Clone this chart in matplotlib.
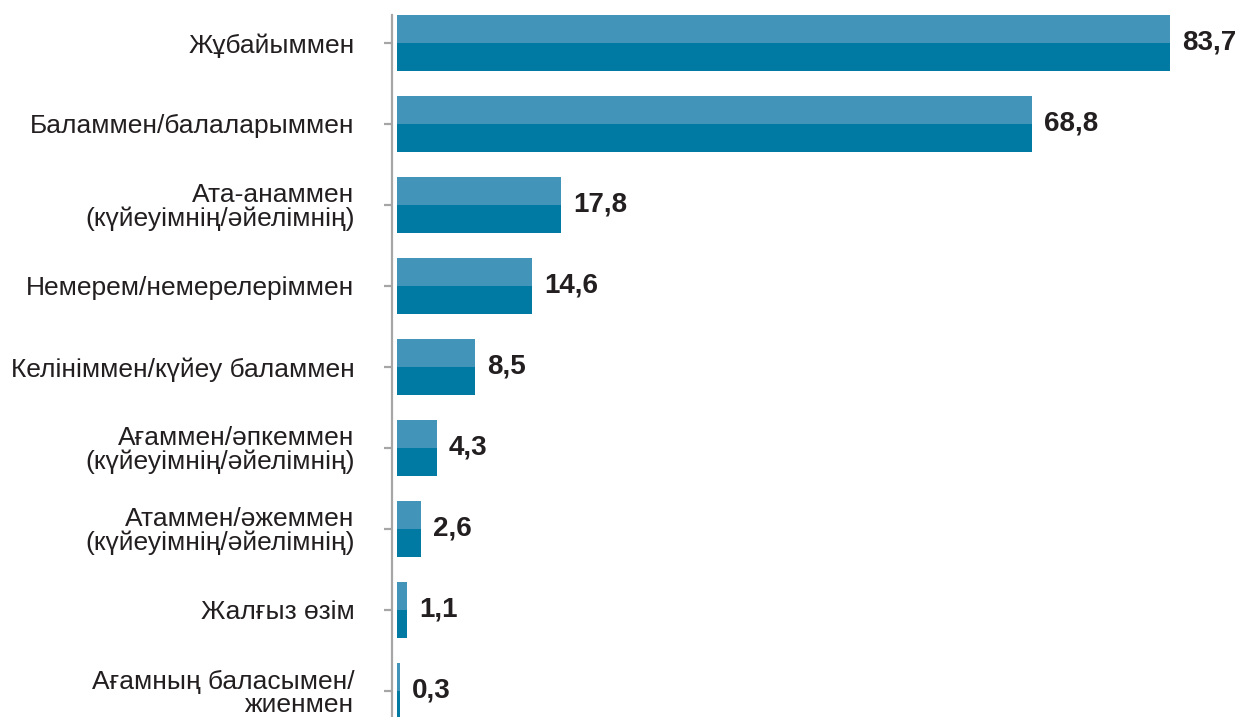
import numpy as np
import matplotlib
matplotlib.use("Agg")
import matplotlib.pyplot as plt

plt.rcParams["font.family"] = ["Liberation Sans", "DejaVu Sans"]

categories = [
    "Жұбайыммен",
    "Баламмен/балаларыммен",
    "Ата-анаммен\n(күйеуімнің/әйелімнің)",
    "Немерем/немерелеріммен",
    "Келініммен/күйеу баламмен",
    "Ағаммен/әпкеммен\n(күйеуімнің/әйелімнің)",
    "Атаммен/әжеммен\n(күйеуімнің/әйелімнің)",
    "Жалғыз өзім",
    "Ағамның баласымен/\nжиенмен",
]
values = [83.7, 68.8, 17.8, 14.6, 8.5, 4.3, 2.6, 1.1, 0.3]
value_labels = ["83,7", "68,8", "17,8", "14,6", "8,5", "4,3", "2,6", "1,1", "0,3"]

LIGHT = "#4394b9"
DARK = "#007aa3"
TEXT = "#231f20"

W, H = 1237, 717
fig = plt.figure(figsize=(W / 100, H / 100), dpi=100)
ax = fig.add_axes([392 / W, 0, 1 - 392 / W, 1 - 15 / H])

y = np.arange(len(categories))
h = 0.69
ax.barh(y - h / 4, values, height=h / 2, color=LIGHT, left=0)
ax.barh(y + h / 4, values, height=h / 2, color=DARK, left=0)

for yi, v, lab in zip(y, values, value_labels):
    ax.text(v + 1.3, yi, lab, va="center", ha="left", fontsize=20,
            fontweight="bold", color=TEXT)

ax.set_xlim(-0.54, (W - 392) / 9.235 - 0.54)
ax.set_ylim((H - 43) / 81, -h / 2)
ax.set_yticks(y)
ax.set_yticklabels(categories, fontsize=19, color=TEXT, linespacing=0.95)
ax.set_xticks([])

for s in ["top", "right", "bottom"]:
    ax.spines[s].set_visible(False)
ax.spines["left"].set_color("#a6a6a6")
ax.spines["left"].set_linewidth(1.6)
ax.tick_params(axis="y", length=6, width=1.6, color="#a6a6a6", pad=21)

fig.savefig("out.png", dpi=100)
